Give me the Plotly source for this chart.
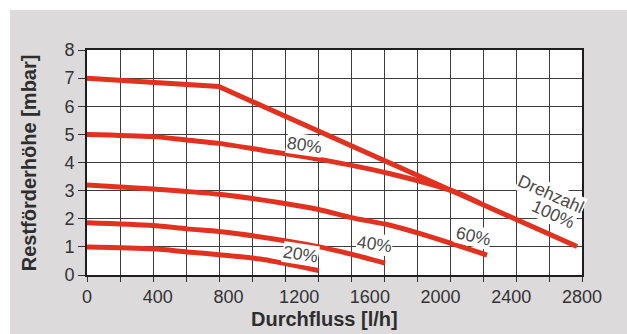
import plotly.graph_objects as go

# ---- data ----
x_100 = [0, 745, 2772]
y_100 = [7.0, 6.70, 1.01]

x_80 = [0, 373, 562, 748, 1000, 1310, 1715, 2093, 2220]
y_80 = [5.0, 4.92, 4.80, 4.68, 4.43, 4.12, 3.60, 2.93, 2.56]

x_60 = [0, 373, 566, 748, 1093, 1310, 1489, 1715, 1885, 2263]
y_60 = [3.2, 3.06, 2.97, 2.87, 2.57, 2.33, 2.05, 1.77, 1.47, 0.71]

x_40 = [0, 373, 566, 748, 865, 1120, 1308, 1488, 1686]
y_40 = [1.86, 1.76, 1.64, 1.55, 1.46, 1.22, 1.01, 0.75, 0.42]

x_20 = [0, 373, 566, 748, 980, 1093, 1310]
y_20 = [1.0, 0.93, 0.82, 0.72, 0.57, 0.44, 0.16]

x_ticks = [0, 400, 800, 1200, 1600, 2000, 2400, 2800]
y_ticks = [0, 1, 2, 3, 4, 5, 6, 7, 8]

labels = ["80%", "60%", "40%", "20%", "Drehzahl", "100%"]
label_x = [1233, 2185, 1629, 1205, 2623, 2636]
label_y = [4.64, 1.39, 1.10, 0.74, 2.88, 2.17]
label_angle = [8, 13, 8, 9, 24, 24]

RED = "#e2311e"
GRAY = "#dcdadb"
FONT = "Liberation Sans, Arial, sans-serif"

fig = go.Figure()
fig.add_trace(go.Scatter(x=x_100, y=y_100, mode="lines",
                         line=dict(color=RED, width=5, shape="linear"),
                         showlegend=False, hoverinfo="skip"))
for xs, ys in [(x_80, y_80), (x_60, y_60), (x_40, y_40), (x_20, y_20)]:
    fig.add_trace(go.Scatter(x=xs, y=ys, mode="lines",
                             line=dict(color=RED, width=5, shape="spline", smoothing=0.8),
                             showlegend=False, hoverinfo="skip"))

for t, xx, yy, a in zip(labels, label_x, label_y, label_angle):
    fig.add_annotation(x=xx, y=yy, xref="x", yref="y", text=t, showarrow=False,
                       xanchor="center", yanchor="middle",
                       textangle=a, bgcolor="white", borderpad=0,
                       font=dict(family=FONT, size=17.5, color="#4a4a4a"))

# axis titles
fig.add_annotation(xref="paper", yref="paper", x=0.4808, y=-0.1956,
                   xanchor="center", yanchor="middle",
                   text="<b>Durchfluss [l/h]</b>", showarrow=False,
                   font=dict(family=FONT, size=20, color="#2e2e2e"))
fig.add_annotation(xref="paper", yref="paper", x=-0.1166, y=0.4978,
                   xanchor="center", yanchor="middle",
                   text="<b>Restförderhöhe [mbar]</b>", showarrow=False, textangle=-90,
                   font=dict(family=FONT, size=20, color="#2e2e2e"))

# white frame strips around the grey panel
fig.add_shape(type="rect", xref="paper", yref="paper", x0=-0.18, x1=1.1, y0=1.1778, y1=1.23,
              fillcolor="white", line=dict(width=0), layer="below")
fig.add_shape(type="rect", xref="paper", yref="paper", x0=-0.18, x1=-0.1556, y0=-0.27, y1=1.23,
              fillcolor="white", line=dict(width=0), layer="below")

fig.update_layout(
    width=627, height=334,
    margin=dict(l=87, r=45, t=50, b=59),
    paper_bgcolor=GRAY, plot_bgcolor="white",
    font=dict(family=FONT, size=18, color="#333333"),
)
fig.update_xaxes(
    range=[0, 2800], tickmode="array", tickvals=x_ticks, ticktext=[str(v) for v in x_ticks],
    showgrid=False, ticks="", ticklabelstandoff=4,
    showline=True, linecolor="#1e1e1e", linewidth=2, mirror=True, zeroline=False,
    minor=dict(tick0=0, dtick=2800 / 15, showgrid=True, gridcolor="#3c3c3c", gridwidth=1,
               ticks="outside", ticklen=5, tickcolor="#333333", tickwidth=1),
    tickfont=dict(family=FONT, size=18, color="#333333"),
)
fig.update_yaxes(
    range=[0, 8], tickmode="array", tickvals=y_ticks,
    showgrid=True, gridcolor="#3c3c3c", gridwidth=1,
    ticks="outside", ticklen=7, tickcolor="#333333", tickwidth=1,
    showline=True, linecolor="#1e1e1e", linewidth=2, mirror=True, zeroline=False,
    tickfont=dict(family=FONT, size=18, color="#333333"),
)

fig.write_html("out.html")
